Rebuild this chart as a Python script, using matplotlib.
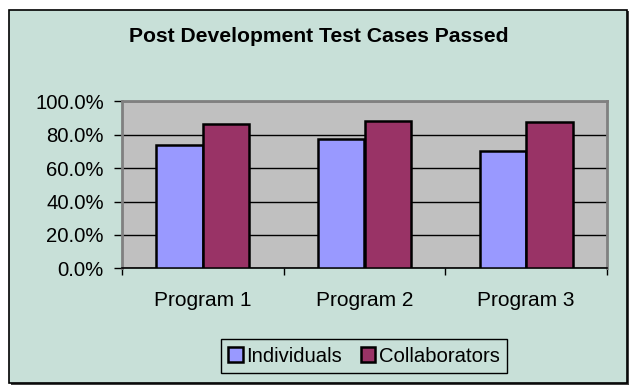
"""Post development test cases passed, individuals vs collaborators."""

from __future__ import annotations

import matplotlib

matplotlib.use("Agg")

import matplotlib.pyplot as plt
import numpy as np
from matplotlib.patches import Rectangle
from matplotlib.ticker import FuncFormatter

CATEGORIES = ["Program 1", "Program 2", "Program 3"]
INDIVIDUALS = [73.7, 77.6, 70.0]
COLLABORATORS = [86.2, 88.4, 87.4]
SERIES_NAMES = ["Individuals", "Collaborators"]
Y_TICKS = [0, 20, 40, 60, 80, 100]

CHART_BG = "#C8E0D8"
PLOT_BG = "#C0C0C0"
COLORS = ["#9999FF", "#993366"]
FONT = ["Liberation Sans", "DejaVu Sans"]
TEXT_SIZE = 14.6


def build_figure() -> plt.Figure:
    plt.rcParams["font.family"] = FONT
    fig = plt.figure(figsize=(6.37, 3.92), dpi=100)
    fig.patch.set_facecolor("white")

    # chart frame with a slight shadow, kept behind the axes
    fig.patches.append(
        Rectangle((11 / 637, 1 - 385 / 392), 618 / 637, 374 / 392,
                  transform=fig.transFigure, facecolor="#404040",
                  edgecolor="none", zorder=-2)
    )
    fig.patches.append(
        Rectangle((9 / 637, 1 - 383 / 392), 618 / 637, 373 / 392,
                  transform=fig.transFigure, facecolor=CHART_BG,
                  edgecolor="black", linewidth=1.2, zorder=-1)
    )

    ax = fig.add_axes([122 / 637, 1 - 268.3 / 392, 485 / 637, 167 / 392])
    ax.set_facecolor(PLOT_BG)

    x = np.arange(len(CATEGORIES))
    width = 0.288
    for offset, values, color, name in (
        (-width / 2, INDIVIDUALS, COLORS[0], SERIES_NAMES[0]),
        (width / 2, COLLABORATORS, COLORS[1], SERIES_NAMES[1]),
    ):
        ax.bar(x + offset, values, width, color=color, edgecolor="black",
               linewidth=1.8, label=name, zorder=3)

    ax.set_xlim(-0.5, len(CATEGORIES) - 0.5)
    ax.set_ylim(0, 100)
    ax.set_yticks(Y_TICKS)
    ax.yaxis.set_major_formatter(FuncFormatter(lambda v, _: f"{v:.1f}%"))
    ax.grid(axis="y", color="black", linewidth=1.0, zorder=1)
    ax.set_axisbelow(True)

    ax.set_xticks(np.arange(-0.5, len(CATEGORIES) + 0.5, 1.0))
    ax.set_xticklabels([])
    ax.set_xticks(x, minor=True)
    ax.set_xticklabels(CATEGORIES, minor=True)
    ax.tick_params(axis="x", which="minor", length=0, pad=16,
                   labelsize=15)
    ax.tick_params(axis="x", which="major", length=5, width=1, direction="out")
    ax.tick_params(axis="y", length=6, width=1, direction="out", pad=7,
                   labelsize=TEXT_SIZE)

    for side in ("top", "right", "left"):
        ax.spines[side].set_color("#808080")
        ax.spines[side].set_linewidth(2)
    ax.spines["bottom"].set_color("black")
    ax.spines["bottom"].set_linewidth(1.2)

    fig.text(319 / 637, 1 - 36 / 392, "Post Development Test Cases Passed",
             ha="center", va="center", fontsize=15.2, fontweight="bold")

    legend = fig.legend(
        loc="center", bbox_to_anchor=(364 / 637, 36 / 392), ncol=2,
        fontsize=TEXT_SIZE, frameon=True, fancybox=False, handlelength=0.7,
        handleheight=0.7, handletextpad=0.2, columnspacing=0.9,
        borderpad=0.35, borderaxespad=0,
    )
    frame = legend.get_frame()
    frame.set_facecolor(CHART_BG)
    frame.set_edgecolor("black")
    frame.set_linewidth(1.0)
    frame.set_alpha(1)
    return fig


def main() -> None:
    fig = build_figure()
    fig.savefig("out.png", dpi=100, facecolor=fig.get_facecolor())
    plt.close(fig)


if __name__ == "__main__":
    main()
